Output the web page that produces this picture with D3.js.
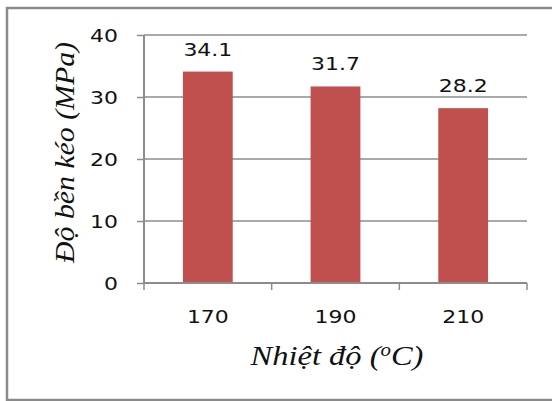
<!DOCTYPE html>
<html>
<head>
<meta charset="utf-8">
<script src="https://cdn.jsdelivr.net/npm/d3@7"></script>
<style>
  html, body { margin: 0; padding: 0; background: #fff; overflow: hidden; }
  svg { display: block; }
</style>
</head>
<body>
<svg id="chart" width="552" height="401"></svg>
<script>
const categories = ["170", "190", "210"];
const values = [34.1, 31.7, 28.2];
const yTicks = [0, 10, 20, 30, 40];
const yTitle = "Độ bền kéo (MPa)";
const xTitleMain = "Nhiệt độ (";
const xTitleSup = "o";
const xTitleEnd = "C)";

(function () {
const svg = d3.select("#chart");
const pLeft = 144, pRight = 527, pTop = 35, pBottom = 283;
const gray = "#8c8c8c";
const textColor = "#111";
const sx = 1.22; // horizontal stretch of labels

// outer border (right edge lies outside the picture)
svg.append("rect")
  .attr("x", 7).attr("y", 8).attr("width", 560).attr("height", 392)
  .attr("fill", "#fff").attr("stroke", "#8a8a8a").attr("stroke-width", 2.5);

const x = d3.scaleBand().domain(categories).range([pLeft, pRight]).padding(0);
const y = d3.scaleLinear().domain([0, 40]).range([pBottom, pTop]);

// gridlines
svg.append("g").selectAll("line").data(yTicks.filter(d => d > 0)).join("line")
  .attr("x1", pLeft).attr("x2", pRight)
  .attr("y1", d => y(d)).attr("y2", d => y(d))
  .attr("stroke", gray).attr("stroke-width", 1.5);

// y axis
const yAxis = d3.axisLeft(y).tickValues(yTicks).tickSize(7).tickPadding(0).tickFormat(d3.format("d"));
const gy = svg.append("g").attr("transform", `translate(${pLeft},0)`).call(yAxis);
gy.select(".domain").attr("stroke", gray).attr("stroke-width", 2).attr("d", `M0,${pTop}V${pBottom}`);
gy.selectAll(".tick line").attr("stroke", gray).attr("stroke-width", 1.5);
gy.selectAll(".tick text").remove();
gy.selectAll(".tick").append("text")
  .attr("transform", `translate(-26,0) scale(${sx},1)`)
  .attr("text-anchor", "end").attr("dy", "0.36em")
  .attr("fill", textColor)
  .style("font-family", "'DejaVu Sans', Verdana, sans-serif").style("font-size", "18px")
  .text(d => d);

// bars
const bw = x.bandwidth() * 0.39;
svg.append("g").selectAll("rect").data(values).join("rect")
  .attr("x", (d, i) => x(categories[i]) + x.bandwidth() / 2 - bw / 2)
  .attr("y", d => y(d))
  .attr("width", bw)
  .attr("height", d => y(0) - y(d))
  .attr("fill", "#C0504D");

// x axis
const xAxis = d3.axisBottom(x).tickSize(0).tickPadding(0);
const gx = svg.append("g").attr("transform", `translate(0,${pBottom})`).call(xAxis);
gx.select(".domain").attr("stroke", gray).attr("stroke-width", 2).attr("d", `M${pLeft},0H${pRight}`);
gx.selectAll(".tick text").remove();
const bounds = categories.map(c => x(c)).concat([x(categories[categories.length - 1]) + x.bandwidth()]);
gx.append("g").selectAll("line").data(bounds).join("line")
  .attr("x1", d => d).attr("x2", d => d).attr("y1", 0).attr("y2", 7)
  .attr("stroke", gray).attr("stroke-width", 1.5);
gx.selectAll(".tick").append("text")
  .attr("transform", `translate(0,40) scale(${sx},1)`)
  .attr("text-anchor", "middle")
  .attr("fill", textColor)
  .style("font-family", "'DejaVu Sans', Verdana, sans-serif").style("font-size", "18px")
  .text(d => d);

// data labels
svg.append("g").selectAll("text").data(values).join("text")
  .attr("transform", (d, i) => `translate(${x(categories[i]) + x.bandwidth() / 2},${y(d) - 16}) scale(${sx},1)`)
  .attr("text-anchor", "middle")
  .attr("fill", textColor)
  .style("font-family", "'DejaVu Sans', Verdana, sans-serif").style("font-size", "18px")
  .text(d => d.toFixed(1));

// y title
svg.append("text")
  .attr("transform", `translate(74,${(42 + 263) / 2}) rotate(-90)`)
  .attr("text-anchor", "middle")
  .attr("fill", textColor)
  .attr("textLength", 221).attr("lengthAdjust", "spacingAndGlyphs")
  .style("font-family", "'Liberation Serif', 'Times New Roman', serif")
  .style("font-style", "italic").style("font-size", "27px")
  .text(yTitle);

// x title
const xt = svg.append("text")
  .attr("transform", `translate(337,365) scale(1.16,1)`)
  .attr("text-anchor", "middle")
  .attr("fill", textColor)
  .style("font-family", "'Liberation Serif', 'Times New Roman', serif")
  .style("font-style", "italic").style("font-size", "28px");
xt.append("tspan").text(xTitleMain);
xt.append("tspan").attr("dy", -9).style("font-size", "18px").text(xTitleSup);
xt.append("tspan").attr("dy", 9).text(xTitleEnd);
})();
</script>
</body>
</html>
